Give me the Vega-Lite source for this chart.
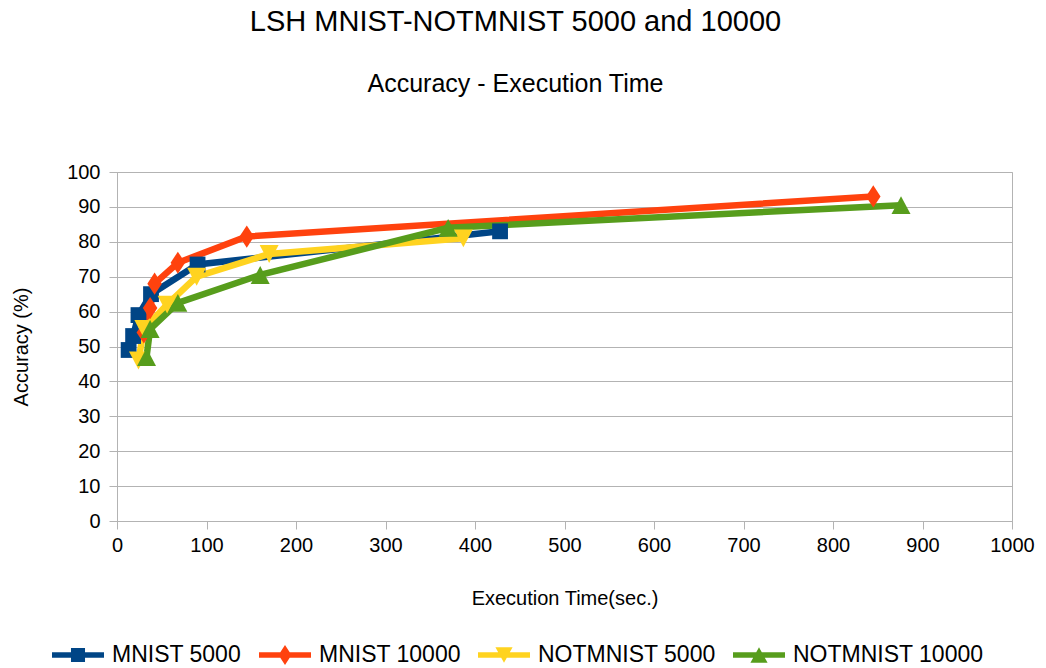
{
  "$schema": "https://vega.github.io/schema/vega-lite/v6.json",
  "autosize": "none",
  "width": 895,
  "height": 349,
  "padding": {"left": 117, "top": 172, "right": 34, "bottom": 147},
  "background": "white",
  "title": {
    "text": "LSH MNIST-NOTMNIST 5000 and 10000",
    "subtitle": "Accuracy - Execution Time",
    "font": "Liberation Sans",
    "subtitleFont": "Liberation Sans",
    "fontSize": 29,
    "subtitleFontSize": 25,
    "fontWeight": "normal",
    "color": "#000000",
    "subtitleColor": "#000000",
    "anchor": "middle",
    "dx": -49,
    "subtitlePadding": 35,
    "offset": 65
  },
  "config": {
    "view": {"stroke": "#b3b3b3", "strokeWidth": 1},
    "axis": {
      "labelFont": "Liberation Sans",
      "titleFont": "Liberation Sans",
      "labelFontSize": 20,
      "titleFontSize": 20,
      "titleFontWeight": "normal",
      "labelColor": "#000000",
      "titleColor": "#000000",
      "domainColor": "#b3b3b3",
      "tickColor": "#b3b3b3",
      "gridColor": "#b3b3b3",
      "gridOpacity": 1,
      "tickSize": 8
    },
    "legend": {
      "labelFont": "Liberation Sans",
      "labelFontSize": 23,
      "labelColor": "#000000",
      "labelLimit": 400
    }
  },
  "data": {
    "values": [
      {"series": "MNIST 5000", "time": 13, "accuracy": 49},
      {"series": "MNIST 5000", "time": 18, "accuracy": 53},
      {"series": "MNIST 5000", "time": 24, "accuracy": 59},
      {"series": "MNIST 5000", "time": 38, "accuracy": 65},
      {"series": "MNIST 5000", "time": 90, "accuracy": 73.5},
      {"series": "MNIST 5000", "time": 428, "accuracy": 83},
      {"series": "MNIST 10000", "time": 30, "accuracy": 54},
      {"series": "MNIST 10000", "time": 37, "accuracy": 61},
      {"series": "MNIST 10000", "time": 42, "accuracy": 68},
      {"series": "MNIST 10000", "time": 68, "accuracy": 74},
      {"series": "MNIST 10000", "time": 145, "accuracy": 81.5},
      {"series": "MNIST 10000", "time": 845, "accuracy": 93},
      {"series": "NOTMNIST 5000", "time": 24, "accuracy": 46},
      {"series": "NOTMNIST 5000", "time": 30, "accuracy": 55},
      {"series": "NOTMNIST 5000", "time": 56, "accuracy": 62},
      {"series": "NOTMNIST 5000", "time": 89, "accuracy": 70},
      {"series": "NOTMNIST 5000", "time": 170, "accuracy": 76.5},
      {"series": "NOTMNIST 5000", "time": 387, "accuracy": 81},
      {"series": "NOTMNIST 10000", "time": 33, "accuracy": 47},
      {"series": "NOTMNIST 10000", "time": 37, "accuracy": 55},
      {"series": "NOTMNIST 10000", "time": 68, "accuracy": 62.5},
      {"series": "NOTMNIST 10000", "time": 160, "accuracy": 70.5},
      {"series": "NOTMNIST 10000", "time": 370, "accuracy": 84},
      {"series": "NOTMNIST 10000", "time": 876, "accuracy": 90.5}
    ]
  },
  "encoding": {
    "x": {
      "field": "time",
      "type": "quantitative",
      "title": "Execution Time(sec.)",
      "scale": {"domain": [0, 1000], "nice": false, "zero": true},
      "axis": {"values": [0, 100, 200, 300, 400, 500, 600, 700, 800, 900, 1000], "format": "d", "grid": false, "labelPadding": 6, "titlePadding": 33, "labelFlush": false}
    },
    "y": {
      "field": "accuracy",
      "type": "quantitative",
      "title": "Accuracy (%)",
      "scale": {"domain": [0, 100], "nice": false},
      "axis": {"values": [0, 10, 20, 30, 40, 50, 60, 70, 80, 90, 100], "grid": true, "labelPadding": 9, "titlePadding": 35}
    },
    "color": {
      "field": "series",
      "type": "nominal",
      "scale": {
        "domain": ["MNIST 5000", "MNIST 10000", "NOTMNIST 5000", "NOTMNIST 10000"],
        "range": ["#004586", "#ff420e", "#ffd320", "#579d1c"]
      },
      "legend": {
        "title": null,
        "orient": "none",
        "legendX": -65,
        "legendY": 457,
        "direction": "horizontal",
        "columns": 4,
        "symbolSize": 2704,
        "symbolType": "square",
        "symbolStrokeWidth": 0,
        "symbolOpacity": 1,
        "labelOffset": 8,
        "columnPadding": 17,
        "labelFontSize": 23,
        "labelLimit": 400,
        "labelFont": "Liberation Sans",
        "labelColor": "#000000",
        "encode": {
          "symbols": {
            "enter": {
              "shape": {"signal": "datum.value === 'MNIST 5000' ? 'M-1,-0.11H1V0.11H-1Z M-0.27,-0.27H0.27V0.27H-0.27Z' : datum.value === 'MNIST 10000' ? 'M-1,-0.11H1V0.11H-1Z M0,-0.38L0.25,0L0,0.38L-0.25,0Z' : datum.value === 'NOTMNIST 5000' ? 'M-1,-0.11H1V0.11H-1Z M-0.33,-0.3L0.33,-0.3L0,0.3Z' : 'M-1,-0.11H1V0.11H-1Z M0,-0.3L0.33,0.3L-0.33,0.3Z'"}
            },
            "update": {
              "shape": {"signal": "datum.value === 'MNIST 5000' ? 'M-1,-0.11H1V0.11H-1Z M-0.27,-0.27H0.27V0.27H-0.27Z' : datum.value === 'MNIST 10000' ? 'M-1,-0.11H1V0.11H-1Z M0,-0.38L0.25,0L0,0.38L-0.25,0Z' : datum.value === 'NOTMNIST 5000' ? 'M-1,-0.11H1V0.11H-1Z M-0.33,-0.3L0.33,-0.3L0,0.3Z' : 'M-1,-0.11H1V0.11H-1Z M0,-0.3L0.33,0.3L-0.33,0.3Z'"},
              "fill": {"signal": "datum.value === 'MNIST 5000' ? '#004586' : datum.value === 'MNIST 10000' ? '#ff420e' : datum.value === 'NOTMNIST 5000' ? '#ffd320' : '#579d1c'"},
              "fillOpacity": {"value": 1},
              "opacity": {"value": 1}
            }
          }
        }
      }
    }
  },
  "layer": [
    {
      "mark": {"type": "line", "strokeWidth": 6.5, "strokeJoin": "miter"},
      "encoding": {}
    },
    {
      "transform": [{"filter": "datum.series === 'MNIST 5000'"}],
      "mark": {"type": "point", "filled": true, "opacity": 1, "size": 250, "shape": "square"}
    },
    {
      "transform": [{"filter": "datum.series === 'MNIST 10000'"}],
      "mark": {"type": "point", "filled": true, "opacity": 1, "size": 250, "shape": "M0,-1.4L0.92,0L0,1.4L-0.92,0Z"}
    },
    {
      "transform": [{"filter": "datum.series === 'NOTMNIST 5000'"}],
      "mark": {"type": "point", "filled": true, "opacity": 1, "size": 250, "shape": "M-1.2,-1.13L1.2,-1.13L0,1.13Z"}
    },
    {
      "transform": [{"filter": "datum.series === 'NOTMNIST 10000'"}],
      "mark": {"type": "point", "filled": true, "opacity": 1, "size": 250, "shape": "M0,-1.13L1.2,1.13L-1.2,1.13Z"}
    }
  ]
}
